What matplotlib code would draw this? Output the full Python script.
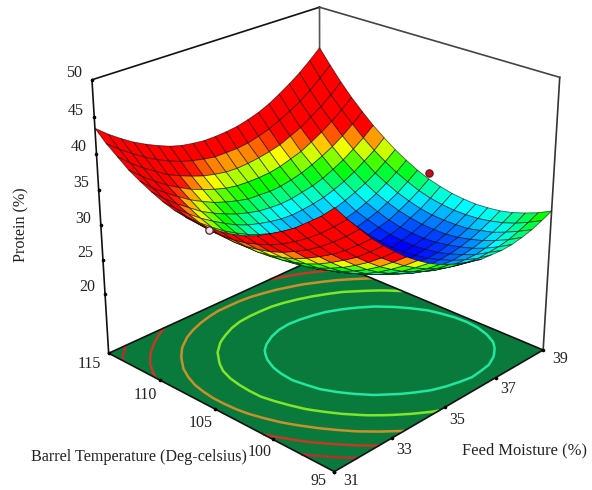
import numpy as np
import matplotlib
matplotlib.use("Agg")
from matplotlib import pyplot as plt
from matplotlib.colors import LinearSegmentedColormap, Normalize
from mpl_toolkits.mplot3d import proj3d

plt.rcParams['font.family'] = ['Liberation Serif', 'DejaVu Serif']

# axes ranges and ticks
moisture_ticks = [31, 33, 35, 37, 39]
temp_ticks = [95, 100, 105, 110, 115]
protein_ticks = [20, 25, 30, 35, 40, 45, 50]
protein_floor = 11.0

# surface, rows = temperature 95..115, columns = moisture 31..39
moisture = np.arange(31, 39.01, 0.4)
temperature = np.arange(95, 115.01, 1.0)
protein = np.array([
    [45.5,43.4,41.5,39.6,38.0,36.5,35.1,33.9,32.8,31.9,31.2,30.5,30.1,29.7,29.6,29.5,29.6,29.9,30.3,30.9,31.6],
    [43.8,41.8,39.9,38.1,36.5,35.0,33.7,32.5,31.5,30.6,29.9,29.3,28.9,28.6,28.4,28.5,28.6,28.9,29.4,30.0,30.7],
    [42.4,40.3,38.5,36.7,35.1,33.7,32.4,31.3,30.3,29.5,28.8,28.2,27.8,27.6,27.5,27.5,27.7,28.1,28.6,29.2,30.0],
    [41.0,39.0,37.2,35.5,34.0,32.6,31.3,30.2,29.3,28.5,27.8,27.3,27.0,26.8,26.7,26.8,27.0,27.4,27.9,28.6,29.4],
    [39.9,37.9,36.1,34.5,33.0,31.6,30.4,29.3,28.4,27.7,27.0,26.6,26.3,26.1,26.1,26.2,26.5,26.9,27.5,28.2,29.0],
    [38.9,36.9,35.2,33.6,32.1,30.8,29.6,28.6,27.7,27.0,26.4,26.0,25.7,25.6,25.6,25.7,26.1,26.5,27.1,27.9,28.8],
    [38.0,36.1,34.4,32.8,31.4,30.1,29.0,28.0,27.2,26.5,26.0,25.6,25.3,25.2,25.3,25.5,25.8,26.3,27.0,27.8,28.7],
    [37.3,35.5,33.8,32.3,30.9,29.6,28.5,27.6,26.8,26.1,25.6,25.3,25.1,25.0,25.1,25.3,25.7,26.3,27.0,27.8,28.8],
    [36.8,35.0,33.4,31.9,30.5,29.3,28.3,27.4,26.6,26.0,25.5,25.2,25.0,25.0,25.1,25.4,25.8,26.4,27.1,28.0,29.0],
    [36.5,34.7,33.1,31.6,30.3,29.2,28.1,27.3,26.5,26.0,25.5,25.2,25.1,25.1,25.3,25.6,26.0,26.7,27.4,28.3,29.4],
    [36.3,34.6,33.0,31.6,30.3,29.2,28.2,27.3,26.6,26.1,25.7,25.5,25.4,25.4,25.6,26.0,26.4,27.1,27.9,28.8,29.9],
    [36.3,34.6,33.1,31.7,30.4,29.3,28.4,27.6,26.9,26.4,26.0,25.8,25.8,25.9,26.1,26.5,27.0,27.7,28.5,29.5,30.6],
    [36.4,34.8,33.3,31.9,30.7,29.6,28.7,28.0,27.3,26.9,26.5,26.4,26.3,26.5,26.7,27.1,27.7,28.4,29.3,30.3,31.5],
    [36.7,35.1,33.6,32.3,31.1,30.1,29.2,28.5,27.9,27.5,27.2,27.1,27.1,27.2,27.5,28.0,28.6,29.3,30.2,31.3,32.5],
    [37.2,35.6,34.2,32.9,31.8,30.8,29.9,29.2,28.7,28.3,28.0,27.9,28.0,28.2,28.5,29.0,29.6,30.4,31.4,32.4,33.7],
    [37.9,36.3,34.9,33.7,32.5,31.6,30.8,30.1,29.6,29.2,29.0,28.9,29.0,29.3,29.6,30.1,30.8,31.6,32.6,33.7,35.0],
    [38.7,37.1,35.8,34.6,33.5,32.6,31.8,31.2,30.7,30.3,30.2,30.1,30.2,30.5,30.9,31.5,32.2,33.0,34.0,35.2,36.5],
    [39.6,38.1,36.8,35.6,34.6,33.7,33.0,32.4,31.9,31.6,31.5,31.5,31.6,31.9,32.4,32.9,33.7,34.6,35.6,36.8,38.1],
    [40.8,39.3,38.0,36.9,35.8,35.0,34.3,33.7,33.3,33.0,32.9,33.0,33.2,33.5,33.9,34.6,35.3,36.3,37.3,38.5,39.9],
    [42.0,40.6,39.4,38.3,37.3,36.5,35.8,35.3,34.9,34.6,34.6,34.6,34.8,35.2,35.7,36.4,37.2,38.1,39.2,40.5,41.9],
    [43.5,42.1,40.9,39.8,38.9,38.1,37.4,36.9,36.6,36.4,36.4,36.5,36.7,37.1,37.6,38.3,39.2,40.2,41.3,42.6,44.0],
])

contour_levels = [28.3, 31.6, 34.9, 38.2, 41.5]
contour_colors = ['#20e8a0', '#7fe62a', '#c8902a', '#c23a22', '#b5302a']

# design points (moisture, temperature, protein)
red_point = (39, 105, 30.75)
white_point = (31, 105, 36.0)

W, H = 592, 490
fig = plt.figure(figsize=(W / 100, H / 100), dpi=100)
ax = fig.add_axes([0.09522, -0.00008, 0.88790, 1.07273], projection='3d')
ax.set_xlim(31, 39)
ax.set_ylim(95, 115)
ax.set_zlim(protein_floor, 50)
ax.view_init(elev=24.745, azim=-136.371)
ax.set_proj_type('persp', focal_length=0.5996)
ax.set_box_aspect((0.98283, 1, 0.93438))
ax.computed_zorder = False
ax.set_axis_off()
ax.apply_aspect()

X, Y = np.meshgrid(moisture, temperature)

# floor and its contours
fx, fy = np.meshgrid([31, 39], [95, 115])
ax.plot_surface(fx, fy, np.full((2, 2), protein_floor), color='#0a7a3c', shade=False, zorder=1)
ax.contour(X, Y, protein, levels=contour_levels, zdir='z', offset=protein_floor,
           colors=contour_colors, linewidths=1.8, zorder=2)

# box
zf, zt = protein_floor, 50
edges = [((31, 115, zf), (31, 115, zt), '#111111'),
         ((39, 115, zf), (39, 115, zt), '#555555'),
         ((39, 95, zf), (39, 95, zt), '#333333'),
         ((31, 115, zt), (39, 115, zt), '#111111'),
         ((39, 115, zt), (39, 95, zt), '#444444'),
         ((31, 115, zf), (31, 95, zf), '#111111'),
         ((31, 95, zf), (39, 95, zf), '#111111'),
         ((31, 115, zf), (39, 115, zf), '#111111'),
         ((39, 115, zf), (39, 95, zf), '#111111')]
for a, b, c in edges:
    ax.plot([a[0], b[0]], [a[1], b[1]], [a[2], b[2]], color=c, lw=1.2, zorder=3)

# surface
cmap = LinearSegmentedColormap.from_list('de', [(0, '#0000ff'), (0.32, '#00ffff'), (0.57, '#00ff00'),
                                                (0.79, '#ffff00'), (1, '#ff0000')])
norm = Normalize(25.2, 35.0)
ax.plot_surface(X, Y, protein, cmap=cmap, norm=norm, rstride=1, cstride=1,
                edgecolor=(0, 0, 0, 0.6), linewidth=0.6, zorder=5)

# points
ax.scatter(*red_point, s=28, c='#c00f1e', edgecolors='#601010', linewidths=0.8, depthshade=False, zorder=7)
ax.scatter(*white_point, s=28, c='#f6dfe6', edgecolors='#502030', linewidths=0.9, depthshade=False, zorder=7)


def tick(m, t, z, label, dx, dy, ha):
    ax.plot([m], [t], [z], marker='o', ms=1.6, color='black', zorder=4)
    x2, y2, _ = proj3d.proj_transform(m, t, z, ax.get_proj())
    ax.annotate(str(label), xy=(x2, y2), xytext=(dx, dy), textcoords='offset pixels', ha=ha, va='center',
                fontsize=11.5, color='#222222', annotation_clip=False)


# label nudges in pixels, the perspective puts the middle ticks a little off
temp_dx = [-8, -1, -2, -3, -8]
temp_dy = [-9, -13, -14, -15, -11]
moist_dx = [9, 5, 4, 5, 9]
moist_dy = [-9, -12, -13, -11, -9]

for z in protein_ticks:
    tick(31, 115, z, z, -10, 6.5, 'right')
for t, dx, dy in zip(temp_ticks, temp_dx, temp_dy):
    tick(31, t, zf, t, dx, dy, 'right')
for m, dx, dy in zip(moisture_ticks, moist_dx, moist_dy):
    tick(m, 95, zf, m, dx, dy, 'left')

fig.text(139 / W, 1 - 457 / H, 'Barrel Temperature (Deg-celsius)', ha='center', va='center', fontsize=11.6, color='#222222')
fig.text(524.5 / W, 1 - 450 / H, 'Feed Moisture (%)', ha='center', va='center', fontsize=11.9, color='#222222')
fig.text(21 / W, 1 - 225 / H, 'Protein (%)', rotation=90, ha='center', va='center', fontsize=11.6, color='#222222')

fig.savefig('out.png', dpi=100)
